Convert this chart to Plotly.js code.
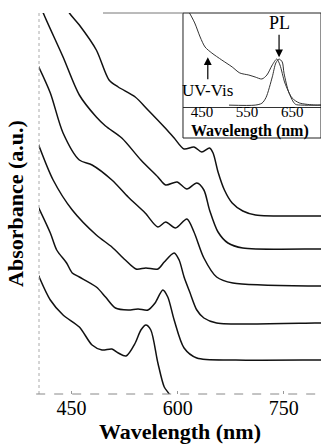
<!DOCTYPE html>
<html>
<head>
<meta charset="utf-8">
<script src="https://cdn.plot.ly/plotly-3.0.1.min.js"></script>
<style>
html,body{margin:0;padding:0;background:#fff;}
#chart{width:321px;height:445px;}
</style>
</head>
<body>
<div id="chart"></div>
<script>
// Main panel: six absorbance spectra (vertically offset), wavelength in nm
const waveA = [442, 447, 461, 485, 503, 516, 540, 558, 581, 595, 609, 623, 634, 645, 650, 657, 666, 677, 692, 710, 794, 803];
const absA  = [3.89, 3.81, 3.69, 3.44, 3.14, 3.07, 2.97, 2.84, 2.67, 2.56, 2.45, 2.47, 2.42, 2.46, 2.41, 2.22, 2.04, 1.91, 1.83, 1.79, 1.78, 1.78];

const waveB = [406, 410, 438, 461, 485, 498, 521, 548, 572, 583, 599, 613, 627, 637, 645, 657, 671, 692, 794, 803];
const absB  = [3.89, 3.81, 3.37, 2.99, 2.77, 2.68, 2.56, 2.34, 2.17, 2.09, 2.12, 2.05, 2.11, 2.04, 1.84, 1.62, 1.51, 1.46, 1.45, 1.45];

const waveC = [403, 420, 438, 461, 479, 507, 530, 554, 572, 583, 597, 613, 623, 637, 655, 678, 794, 803];
const absC  = [3.28, 3.01, 2.61, 2.34, 2.29, 2.14, 1.97, 1.81, 1.67, 1.72, 1.66, 1.75, 1.62, 1.36, 1.17, 1.11, 1.08, 1.08];

const waveD = [403, 424, 451, 485, 507, 526, 541, 555, 572, 581, 595, 602, 609, 617, 627, 637, 655, 794, 803];
const absD  = [2.50, 2.14, 1.84, 1.59, 1.47, 1.34, 1.25, 1.26, 1.25, 1.32, 1.41, 1.34, 1.17, 1.02, 0.84, 0.76, 0.71, 0.71, 0.71];

const waveE = [403, 420, 429, 443, 451, 461, 485, 498, 512, 530, 544, 558, 568, 579, 586, 595, 609, 627, 682, 794, 803];
const absE  = [1.87, 1.61, 1.44, 1.31, 1.21, 1.17, 1.07, 0.97, 0.86, 0.84, 0.85, 0.84, 0.91, 1.04, 0.97, 0.74, 0.46, 0.36, 0.34, 0.34, 0.34];

const waveF = [403, 420, 438, 461, 479, 493, 507, 516, 527, 540, 548, 555, 562, 572, 581, 588, 594];
const absF  = [1.19, 0.94, 0.79, 0.67, 0.49, 0.44, 0.45, 0.41, 0.38, 0.51, 0.64, 0.69, 0.64, 0.31, 0.07, 0.00, -0.10];

// Inset: UV-Vis absorption and PL emission (normalised)
const insetWaveUV = [417, 421, 434, 446, 457, 472, 494, 517, 534, 554, 568, 583, 594, 606, 616, 623, 634, 650, 666, 701, 714];
const insetUV     = [1.03, 1.01, 0.894, 0.745, 0.638, 0.574, 0.50, 0.426, 0.362, 0.34, 0.319, 0.298, 0.34, 0.447, 0.51, 0.447, 0.255, 0.096, 0.043, 0.021, 0.021];
const insetWavePL = [510, 568, 583, 592, 606, 614, 621, 628, 632, 643, 657, 672, 714];
const insetPL     = [0.02, 0.02, 0.04, 0.10, 0.32, 0.47, 0.51, 0.48, 0.36, 0.15, 0.03, 0.02, 0.02];

const mainTicks = [450, 600, 750];
const insetTicks = [450, 550, 650];

const serif = "'Liberation Serif', 'Times New Roman', Times, serif";
const mainLine = {color: '#111', width: 1.5};
const insetLine = {color: '#333', width: 1};

const series = [[waveA, absA], [waveB, absB], [waveC, absC], [waveD, absD], [waveE, absE], [waveF, absF]];
const traces = series.map(s => ({
  x: s[0], y: s[1], type: 'scatter', mode: 'lines',
  line: Object.assign({shape: 'spline', smoothing: 0.8}, mainLine),
  xaxis: 'x', yaxis: 'y', hoverinfo: 'skip', showlegend: false
}));
traces.push({x: insetWaveUV, y: insetUV, type: 'scatter', mode: 'lines',
  line: Object.assign({shape: 'spline', smoothing: 0.8}, insetLine),
  xaxis: 'x2', yaxis: 'y2', showlegend: false});
traces.push({x: insetWavePL, y: insetPL, type: 'scatter', mode: 'lines',
  line: Object.assign({shape: 'spline', smoothing: 0.8}, insetLine),
  xaxis: 'x2', yaxis: 'y2', showlegend: false});

const layout = {
  width: 321, height: 445,
  margin: {l: 39, r: 0, t: 13, b: 51, pad: 0},
  paper_bgcolor: '#fff', plot_bgcolor: 'rgba(0,0,0,0)',
  showlegend: false,
  font: {family: serif, color: '#000'},
  xaxis: {
    range: [404, 802.5], tickvals: mainTicks, ticktext: mainTicks.map(String),
    showgrid: false, zeroline: false, showline: false,
    ticks: 'inside', ticklen: 3, tickcolor: '#999',
    tickfont: {family: serif, size: 20, color: '#000'},
    title: {text: '<b>Wavelength (nm)</b>', font: {family: serif, size: 22, color: '#000'}, standoff: 4},
    automargin: false
  },
  yaxis: {
    range: [0, 3.81], showticklabels: false, ticks: '', showgrid: false, zeroline: false, showline: false,
    title: {text: '<b>Absorbance (a.u.)</b>', font: {family: serif, size: 22, color: '#000'}, standoff: 8},
    automargin: false
  },
  xaxis2: {
    domain: [0.5106, 1], anchor: 'y2', range: [408, 714],
    tickvals: insetTicks, ticktext: insetTicks.map(String),
    showgrid: false, zeroline: false, showline: true, linecolor: '#333', linewidth: 1,
    ticks: '', ticklabelstandoff: -9, tickfont: {family: serif, size: 15, color: '#000'},
    automargin: false
  },
  yaxis2: {
    domain: [0.7533, 1], anchor: 'x2', range: [0, 1.0],
    showticklabels: false, ticks: '', showgrid: false, zeroline: false, showline: false,
    automargin: false
  },
  shapes: [
    {type: 'rect', xref: 'paper', yref: 'paper', x0: 0.5106, x1: 1.0, y0: 0.6719, y1: 1.0,
     line: {color: '#222', width: 1}, fillcolor: 'rgba(0,0,0,0)'},
    {type: 'line', xref: 'paper', yref: 'paper', x0: 0.227, x1: 0.5106, y0: 1, y1: 1,
     line: {color: '#777', width: 1}},
    {type: 'line', xref: 'paper', yref: 'paper', x0: 0, x1: 0, y0: 0, y1: 1,
     line: {color: '#aaa', width: 1, dash: 'dot'}},
    {type: 'line', xref: 'paper', yref: 'paper', x0: -0.01, x1: 1, y0: 0, y1: 0,
     line: {color: '#888', width: 1, dash: 'dash'}}
  ],
  annotations: [
    {xref: 'paper', yref: 'paper', x: 0.748, y: 0.6903, text: '<b>Wavelength (nm)</b>', showarrow: false,
     xanchor: 'center', yanchor: 'middle', font: {family: serif, size: 16, color: '#000'}},
    {xref: 'x2', yref: 'y2', x: 621, y: 0.53, text: 'PL', showarrow: true,
     ax: 0, ay: -34, arrowhead: 2, arrowsize: 1.3, arrowwidth: 1.2, arrowcolor: '#000',
     font: {family: serif, size: 18, color: '#000'}},
    {xref: 'x2', yref: 'y2', x: 463, y: 0.53, text: 'UV-Vis', showarrow: true,
     ax: 0, ay: 33, arrowhead: 2, arrowsize: 1.3, arrowwidth: 1.2, arrowcolor: '#000',
     font: {family: serif, size: 17, color: '#000'}}
  ]
};

Plotly.newPlot('chart', traces, layout, {staticPlot: true, displayModeBar: false});
</script>
</body>
</html>
